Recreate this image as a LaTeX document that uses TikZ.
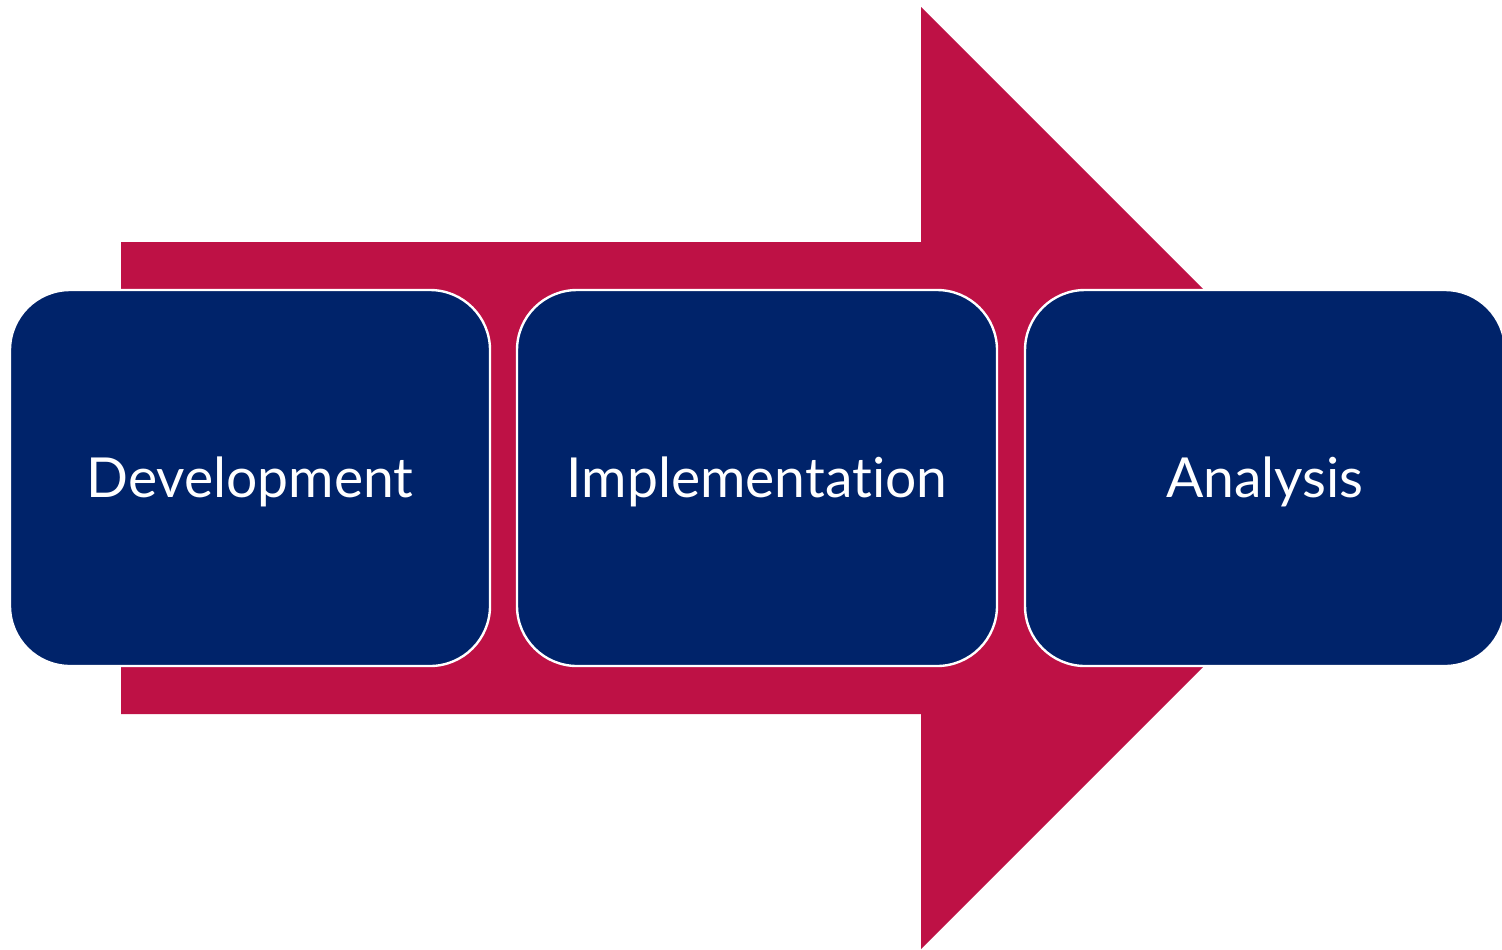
\documentclass[tikz,border=0pt]{standalone}
\usepackage{fontspec}
\setmainfont{Lato}[Ligatures={NoCommon,NoRare}]
\definecolor{navy}{RGB}{0,35,106}
\definecolor{crim}{RGB}{190,17,69}
\begin{document}
\begin{tikzpicture}[x=0.5pt,y=-0.5pt,
  stage/.style={draw=white,line width=1.2pt,fill=navy,rounded corners=30pt},
  lbl/.style={text=white,font=\fontsize{27.6pt}{33pt}\selectfont,anchor=base,inner sep=0pt}]
\useasboundingbox (0,0) rectangle (1502,949);
\clip (0,0) rectangle (1502,949);
\fill[crim] (121,242) -- (921,242) -- (921,7) -- (1392,478) -- (921,949) -- (921,714) -- (121,714) -- cycle;
\draw[stage] (10,290) rectangle (490,666);
\draw[stage] (517,290) rectangle (997,666);
\draw[stage] (1025,290) rectangle (1505,666);
\node[lbl] (dev) at (250,497) {Development};
\node[lbl] (imp) at (757,497) {Implementation};
\node[lbl] (ana) at (1265,497) {Analysis};
\end{tikzpicture}
\end{document}
